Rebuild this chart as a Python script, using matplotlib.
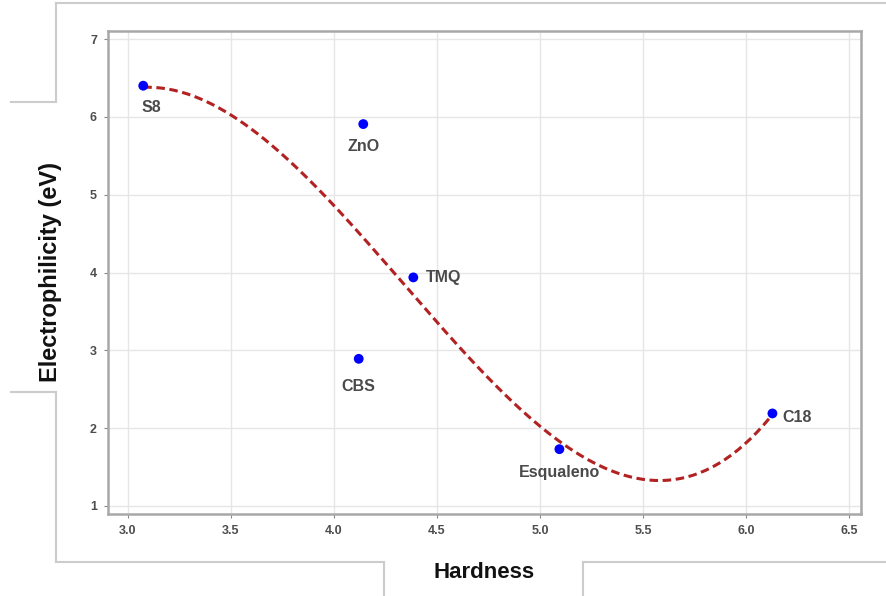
import numpy as np
import matplotlib
matplotlib.use('Agg')
import matplotlib.pyplot as plt
from matplotlib.lines import Line2D

# values
compounds = ['S8', 'ZnO', 'TMQ', 'CBS', 'Esqualeno', 'C18']
hardness = [3.074, 4.142, 4.385, 4.120, 5.094, 6.128]
electrophilicity = [6.40, 5.907, 3.937, 2.891, 1.730, 2.189]
# label offsets (points) and alignment for each compound
label_offsets = [(-1, -16), (0, -16), (9, 0), (0, -20), (0, -17), (7, -3)]
label_align = ['left', 'center', 'left', 'center', 'center', 'left']

x_ticks = [3.0, 3.5, 4.0, 4.5, 5.0, 5.5, 6.0, 6.5]
y_ticks = [1, 2, 3, 4, 5, 6, 7]

plt.rcParams['font.family'] = ['Liberation Sans', 'DejaVu Sans']

fig = plt.figure(figsize=(8.86, 5.96), dpi=100)
W, H = 886, 596
# panel box in pixel coordinates: left 108, right 861, top 31, bottom 514
ax = fig.add_axes([108 / W, 1 - 514 / H, (861 - 108) / W, (514 - 31) / H])

# smooth curve: cubic fit through the points (like geom_smooth with poly(x, 3))
coef = np.polyfit(hardness, electrophilicity, 3)
xs = np.linspace(min(hardness), max(hardness), 200)
ax.plot(xs, np.polyval(coef, xs), color='#b22222', lw=2.2, ls=(0, (2.8, 1.5)), zorder=2)

ax.scatter(hardness, electrophilicity, s=50, color='#0000ff', zorder=3, edgecolors='none')
for name, x, y, off, ha in zip(compounds, hardness, electrophilicity, label_offsets, label_align):
    ax.annotate(name, (x, y), xytext=off, textcoords='offset points', ha=ha,
                va='center', fontsize=11.5, fontweight='bold', color='#4a4a4a')

ax.set_xlim(2.903, 6.558)
ax.set_ylim(0.897, 7.103)
ax.set_xticks(x_ticks)
ax.set_xticklabels([f'{t:.1f}' for t in x_ticks])
ax.set_yticks(y_ticks)
ax.grid(True, color='#e6e6e6', lw=1.0)
ax.set_axisbelow(True)
for s in ax.spines.values():
    s.set_color('#a8a8a8')
    s.set_linewidth(1.8)
ax.tick_params(length=3, width=0.8, color='#888888', labelsize=9, labelcolor='#4d4d4d', pad=5)
for lab in ax.get_xticklabels() + ax.get_yticklabels():
    lab.set_fontweight('bold')

ax.set_xlabel('Hardness', fontsize=16, fontweight='bold', color='#111111', labelpad=18)
ax.set_ylabel('Electrophilicity (eV)', fontsize=17, fontweight='bold', color='#111111', labelpad=20)

# light grey outline of the pasted image around the chart
frame = [
    [(886, 3), (56, 3)], [(56, 3), (56, 102)], [(56, 102), (11, 102)],
    [(11, 392), (56, 392)], [(56, 392), (56, 562)], [(56, 562), (384, 562)],
    [(384, 562), (384, 596)], [(583, 596), (583, 562)], [(583, 562), (886, 562)],
]
for (x0, y0), (x1, y1) in frame:
    fig.add_artist(Line2D([x0 / W, x1 / W], [1 - y0 / H, 1 - y1 / H],
                          color='#cccccc', lw=1.5, transform=fig.transFigure))

plt.savefig('out.png', dpi=100)
